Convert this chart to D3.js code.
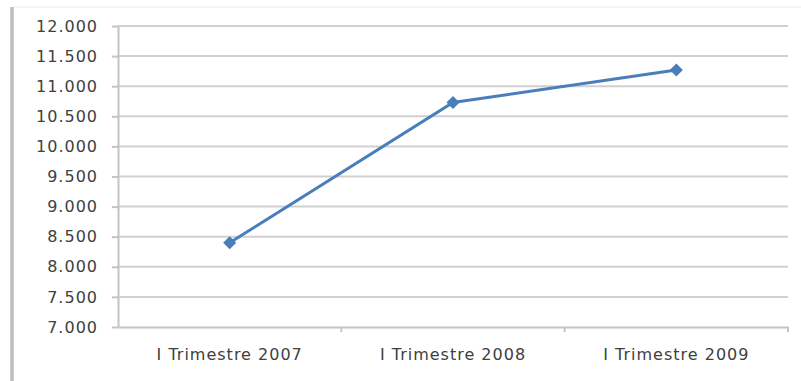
<!DOCTYPE html>
<html>
  <head>
    <meta charset="utf-8">
    <title>I Trimestre 2007-2009</title>
    <script src="https://d3js.org/d3.v7.min.js"></script>
    <style>
      body { margin: 0; background: #fff; }
      text { font-family: "DejaVu Sans", sans-serif; fill: #404040; }
      .grid line { stroke: #d0d0d0; stroke-width: 2; }
      .axis path, .axis line { stroke: #c4c4c4; stroke-width: 2; }
    </style>
  </head>
  <body>
    <svg id="svg" width="801" height="381"></svg>
    <script>
      // data
      var categories = ["I Trimestre 2007", "I Trimestre 2008", "I Trimestre 2009"];
      var values = [8400, 10730, 11270];
      var yTicks = [7000, 7500, 8000, 8500, 9000, 9500, 10000, 10500, 11000, 11500, 12000];

      var svg = d3.select("#svg");
      var plotLeft = 118, plotRight = 788, plotTop = 26, plotBottom = 327;

      // frame
      svg.append("line")
        .attr("x1", 12).attr("x2", 12).attr("y1", 7).attr("y2", 381)
        .attr("stroke", "#bdbdbd").attr("stroke-width", 3.5);
      svg.append("line")
        .attr("x1", 14).attr("x2", 801).attr("y1", 7).attr("y2", 7)
        .attr("stroke", "#f2f2f2").attr("stroke-width", 1.5);

      var x = d3.scaleBand().domain(categories).range([plotLeft, plotRight]);
      var y = d3.scaleLinear().domain([7000, 12000]).range([plotBottom, plotTop]);

      // gridlines
      svg.append("g").attr("class", "grid")
        .selectAll("line")
          .data(yTicks.slice(1))
        .enter().append("line")
          .attr("x1", plotLeft).attr("x2", plotRight)
          .attr("y1", function(d) { return y(d); })
          .attr("y2", function(d) { return y(d); });

      // y axis
      var yAxis = svg.append("g").attr("class", "axis")
        .attr("transform", "translate(" + plotLeft + ",0)")
        .call(d3.axisLeft(y).tickValues(yTicks).tickSize(6).tickSizeOuter(0).tickPadding(14)
          .tickFormat(function(d) { return (d / 1000).toFixed(3); }));
      yAxis.selectAll("text")
        .style("font-size", "16px").style("letter-spacing", "1px");

      // x axis
      var xAxis = svg.append("g").attr("class", "axis")
        .attr("transform", "translate(0," + plotBottom + ")")
        .call(d3.axisBottom(x).tickSize(0).tickSizeOuter(0).tickPadding(22));
      xAxis.selectAll("text")
        .style("font-size", "16px").style("letter-spacing", "1px");
      xAxis.selectAll(".edge")
        .data(categories)
        .enter().append("line")
          .attr("class", "edge")
          .attr("x1", function(d) { return x(d) + x.bandwidth(); })
          .attr("x2", function(d) { return x(d) + x.bandwidth(); })
          .attr("y1", 0).attr("y2", 5);

      // line
      var line = d3.line()
        .x(function(d, i) { return x(categories[i]) + x.bandwidth() / 2; })
        .y(function(d) { return y(d); });
      svg.append("path")
        .datum(values)
        .attr("d", line)
        .attr("fill", "none")
        .attr("stroke", "#4a7ebb")
        .attr("stroke-width", 3);
      svg.selectAll(".marker")
        .data(values)
        .enter().append("path")
          .attr("class", "marker")
          .attr("d", d3.symbol().type(d3.symbolDiamond2).size(110))
          .attr("fill", "#4a7ebb")
          .attr("transform", function(d, i) {
            return "translate(" + (x(categories[i]) + x.bandwidth() / 2) + "," + y(d) + ")";
          });
    </script>
  </body>
</html>
